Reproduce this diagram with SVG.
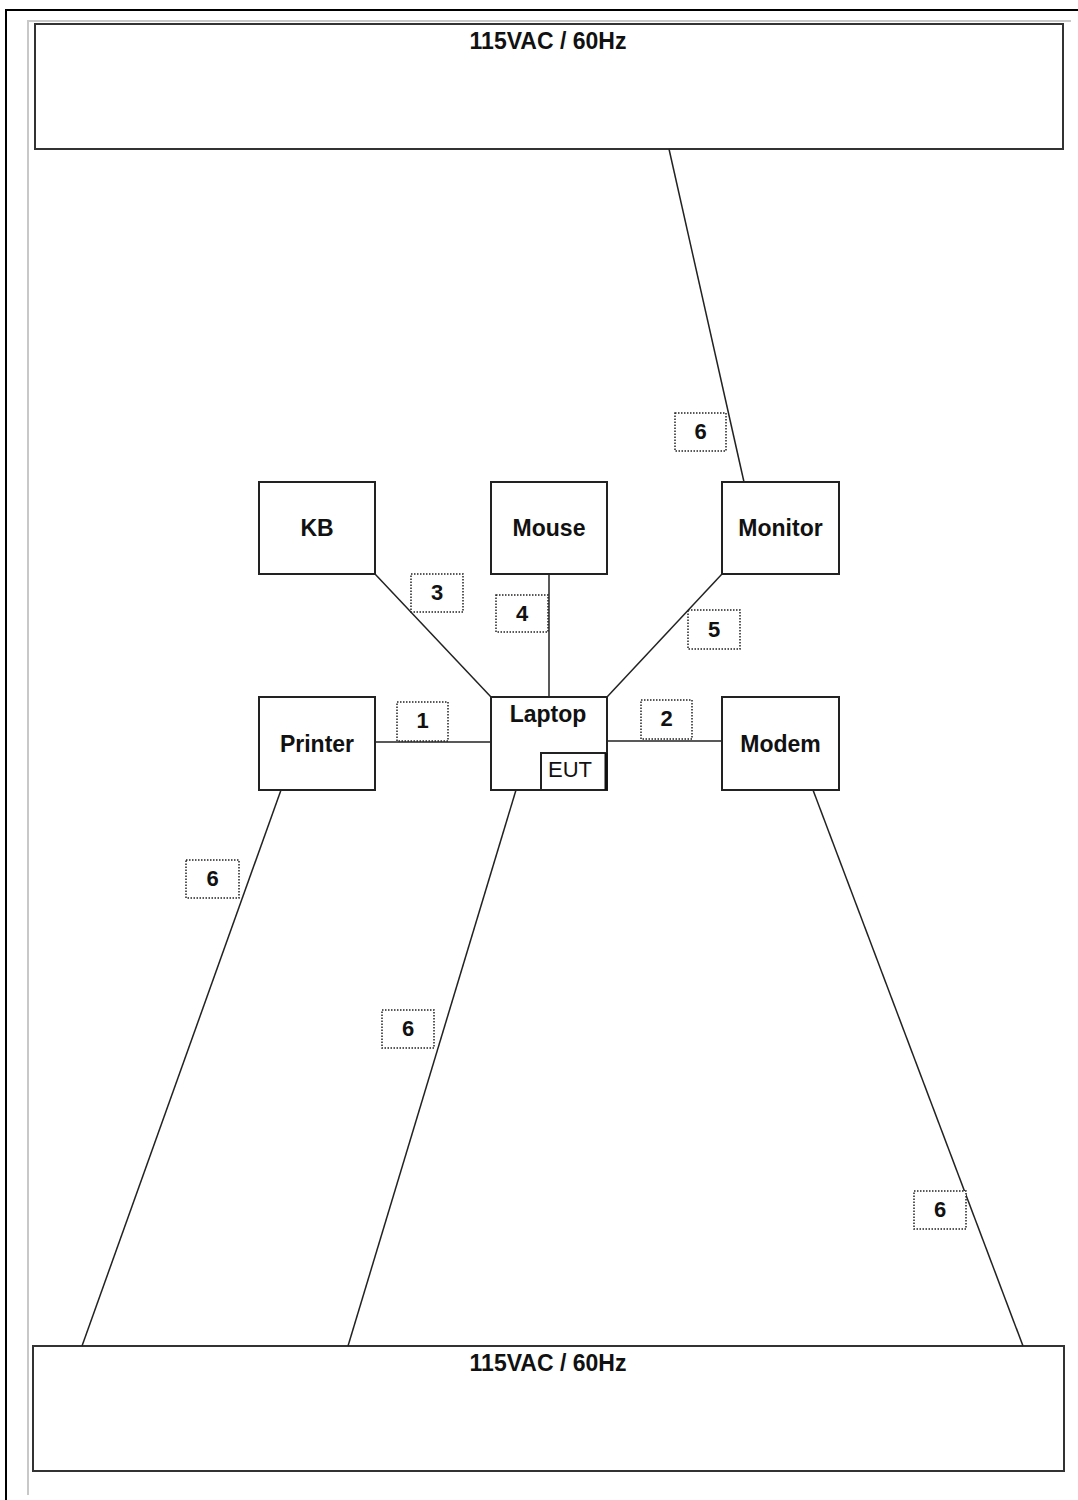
<svg xmlns="http://www.w3.org/2000/svg" width="1078" height="1500" viewBox="0 0 1078 1500">
<style>
.bg{fill:#fff}
.frame{fill:none;stroke:#000;stroke-width:2}
.frame2{fill:none;stroke:#c8c8c8;stroke-width:2}
.box{fill:#fff;stroke:#222;stroke-width:2}
.pbox{fill:#fff;stroke:#333;stroke-width:2}
.wire{fill:none;stroke:#222;stroke-width:1.5}
.tag{fill:#fff;stroke:#222;stroke-width:1.5;stroke-dasharray:1.5 1.5}
.t{font-family:"Liberation Sans",Arial,sans-serif;font-weight:bold;font-size:23px;fill:#111;text-anchor:middle}
.n{font-family:"Liberation Sans",Arial,sans-serif;font-weight:bold;font-size:22px;fill:#111;text-anchor:middle}
.eut{font-family:"Liberation Sans",Arial,sans-serif;font-size:22px;fill:#111;text-anchor:middle}
</style>
<rect class="bg" x="0" y="0" width="1078" height="1500"/>
<path class="frame" d="M6 1500 V10 H1078"/>
<path class="frame2" d="M28 1495 V21 H1071"/>

<g id="power-top">
<rect class="pbox" x="35" y="24" width="1028" height="125"/>
<text class="t" x="548" y="49">115VAC / 60Hz</text>
</g>
<g id="power-bottom">
<rect class="pbox" x="33" y="1346" width="1031" height="125"/>
<text class="t" x="548" y="1371">115VAC / 60Hz</text>
</g>

<g id="connectors">
<line class="wire" x1="669" y1="149" x2="744" y2="482"/>
<line class="wire" x1="375" y1="574" x2="491" y2="697"/>
<line class="wire" x1="549" y1="574" x2="549" y2="697"/>
<line class="wire" x1="722" y1="574" x2="607" y2="697"/>
<line class="wire" x1="375" y1="742" x2="491" y2="742"/>
<line class="wire" x1="607" y1="741" x2="722" y2="741"/>
<line class="wire" x1="281" y1="790" x2="82" y2="1346"/>
<line class="wire" x1="516" y1="790" x2="348" y2="1346"/>
<line class="wire" x1="813" y1="790" x2="1023" y2="1346"/>
<g id="labels">
<rect class="tag" x="675" y="413" width="51" height="38"/><text class="n" x="700.5" y="439">6</text>
<rect class="tag" x="411" y="574" width="52" height="38"/><text class="n" x="437" y="600">3</text>
<rect class="tag" x="496" y="595" width="52" height="37"/><text class="n" x="522" y="621">4</text>
<rect class="tag" x="688" y="610" width="52" height="39"/><text class="n" x="714" y="637">5</text>
<rect class="tag" x="397" y="702" width="51" height="39"/><text class="n" x="422.5" y="728">1</text>
<rect class="tag" x="641" y="700" width="51" height="39"/><text class="n" x="666.5" y="726">2</text>
<rect class="tag" x="186" y="860" width="53" height="38"/><text class="n" x="212.5" y="886">6</text>
<rect class="tag" x="382" y="1010" width="52" height="38"/><text class="n" x="408" y="1036">6</text>
<rect class="tag" x="914" y="1191" width="52" height="38"/><text class="n" x="940" y="1217">6</text>
</g>
</g>

<g id="kb">
<rect class="box" x="259" y="482" width="116" height="92"/>
<text class="t" x="317" y="536">KB</text>
</g>
<g id="mouse">
<rect class="box" x="491" y="482" width="116" height="92"/>
<text class="t" x="549" y="536">Mouse</text>
</g>
<g id="monitor">
<rect class="box" x="722" y="482" width="117" height="92"/>
<text class="t" x="780.5" y="536">Monitor</text>
</g>
<g id="printer">
<rect class="box" x="259" y="697" width="116" height="93"/>
<text class="t" x="317" y="752">Printer</text>
</g>
<g id="laptop">
<rect class="box" x="491" y="697" width="116" height="93"/>
<text class="t" x="548" y="722">Laptop</text>
<rect class="box" x="541" y="753" width="65" height="37"/>
<line x1="606" y1="753" x2="606" y2="790" stroke="#111" stroke-width="3"/>
<text class="eut" x="570" y="777">EUT</text>
</g>
<g id="modem">
<rect class="box" x="722" y="697" width="117" height="93"/>
<text class="t" x="780.5" y="752">Modem</text>
</g>
</svg>
